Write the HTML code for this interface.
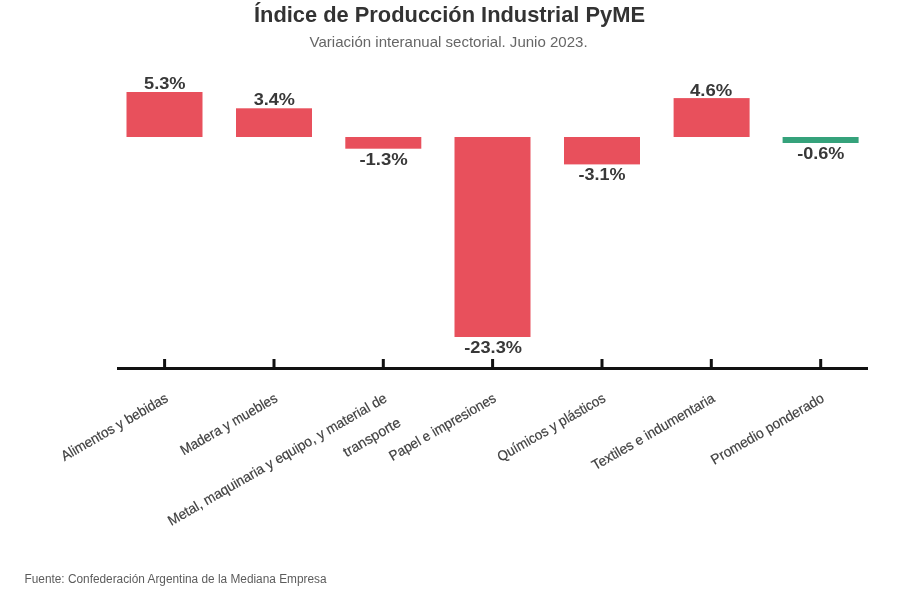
<!DOCTYPE html>
<html><head><meta charset="utf-8"><style>
html,body{margin:0;padding:0;background:#fff;}
body{width:900px;height:600px;overflow:hidden;}
svg{display:block;font-family:"Liberation Sans",sans-serif;filter:blur(0.4px);}
</style></head><body>
<svg width="900" height="600" viewBox="0 0 900 600">
<rect x="0" y="0" width="900" height="600" fill="#fff"/>
<!-- title -->
<text x="449.5" y="22.2" text-anchor="middle" font-size="22" font-weight="bold" fill="#333" textLength="391" lengthAdjust="spacingAndGlyphs">Índice de Producción Industrial PyME</text>
<text x="448.6" y="46.8" text-anchor="middle" font-size="15" fill="#666" textLength="278" lengthAdjust="spacingAndGlyphs">Variación interanual sectorial. Junio 2023.</text>
<!-- bars -->
<g fill="#e8505c">
<rect x="126.5" y="92" width="76" height="45"/>
<rect x="236" y="108.3" width="76" height="28.7"/>
<rect x="345.3" y="137" width="76" height="11.7"/>
<rect x="454.5" y="137" width="76" height="200"/>
<rect x="564" y="137" width="76" height="27.4"/>
<rect x="673.6" y="98.1" width="76" height="38.9"/>
</g>
<rect x="782.6" y="137" width="76" height="6" fill="#35a27b"/>
<!-- value labels -->
<g font-size="16.2" font-weight="bold" fill="#383838" text-anchor="middle">
<text x="164.8" y="88.6" textLength="41.6" lengthAdjust="spacingAndGlyphs">5.3%</text>
<text x="274.3" y="105.4" textLength="41.3" lengthAdjust="spacingAndGlyphs">3.4%</text>
<text x="383.6" y="164.7" textLength="48.4" lengthAdjust="spacingAndGlyphs">-1.3%</text>
<text x="493.1" y="353.3" textLength="57.7" lengthAdjust="spacingAndGlyphs">-23.3%</text>
<text x="602" y="180.4" textLength="47" lengthAdjust="spacingAndGlyphs">-3.1%</text>
<text x="711.1" y="95.5" textLength="42.2" lengthAdjust="spacingAndGlyphs">4.6%</text>
<text x="820.8" y="158.8" textLength="47.2" lengthAdjust="spacingAndGlyphs">-0.6%</text>
</g>
<!-- axis -->
<rect x="117" y="367" width="751" height="3" fill="#111"/>
<g fill="#111">
<rect x="163.1" y="359" width="3" height="8"/>
<rect x="272.5" y="359" width="3" height="8"/>
<rect x="381.8" y="359" width="3" height="8"/>
<rect x="491.1" y="359" width="3" height="8"/>
<rect x="600.5" y="359" width="3" height="8"/>
<rect x="709.8" y="359" width="3" height="8"/>
<rect x="819.2" y="359" width="3" height="8"/>
</g>
<!-- axis labels -->
<g font-size="14.2" fill="#404040" stroke="#404040" stroke-width="0.2" text-anchor="end">
<text transform="translate(169.1 400.9) rotate(-30)" textLength="120.7" lengthAdjust="spacingAndGlyphs">Alimentos y bebidas</text>
<text transform="translate(278.5 400.9) rotate(-30)" textLength="109.4" lengthAdjust="spacingAndGlyphs">Madera y muebles</text>
<text transform="translate(387.8 400.9) rotate(-30)" textLength="250.0" lengthAdjust="spacingAndGlyphs">Metal, maquinaria y equipo, y material de</text>
<text transform="translate(401.9 425.3) rotate(-30)" textLength="64.0" lengthAdjust="spacingAndGlyphs">transporte</text>
<text transform="translate(497.1 400.9) rotate(-30)" textLength="120.7" lengthAdjust="spacingAndGlyphs">Papel e impresiones</text>
<text transform="translate(606.5 400.9) rotate(-30)" textLength="122.2" lengthAdjust="spacingAndGlyphs">Químicos y plásticos</text>
<text transform="translate(715.8 400.9) rotate(-30)" textLength="139.1" lengthAdjust="spacingAndGlyphs">Textiles e indumentaria</text>
<text transform="translate(825.2 400.9) rotate(-30)" textLength="128.0" lengthAdjust="spacingAndGlyphs">Promedio ponderado</text>
</g>
<!-- footer -->
<text x="24.5" y="582.5" font-size="12" fill="#5c5c5c" textLength="302" lengthAdjust="spacingAndGlyphs">Fuente: Confederación Argentina de la Mediana Empresa</text>
</svg>
</body></html>
